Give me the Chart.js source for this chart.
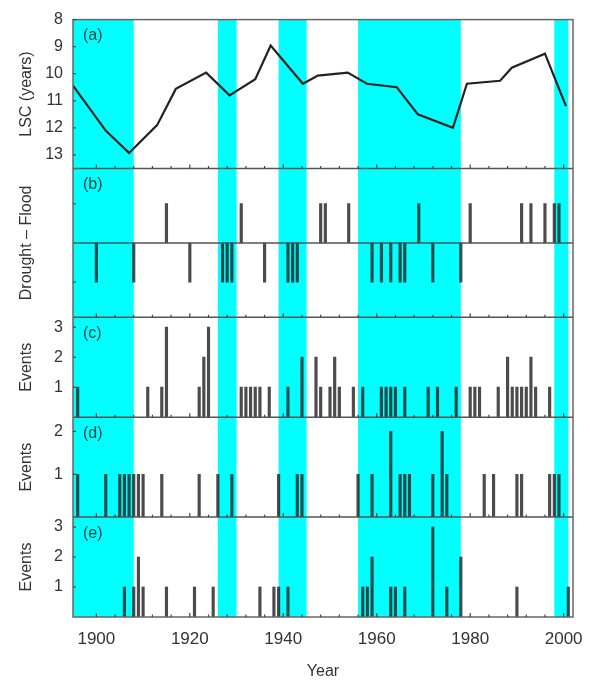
<!DOCTYPE html>
<html><head><meta charset="utf-8">
<script src="https://cdn.jsdelivr.net/npm/chart.js@4.4.0/dist/chart.umd.min.js"></script>
<style>html,body{margin:0;padding:0;background:#fff;}#wrap{position:relative;width:590px;height:682px;}</style>
</head><body><div id="wrap"><canvas id="c" width="590" height="682"></canvas></div>
<script>
// ---- data ----
const lscYears  = [1895, 1902, 1907, 1913, 1917, 1923.5, 1928.5, 1934, 1937.3, 1944.2, 1947.4, 1953.8, 1957.9, 1964.3, 1968.8, 1976.3, 1979.3, 1986.4, 1988.9, 1996, 2000.5];
const lscValues = [10.44, 12.1, 12.93, 11.9, 10.56, 9.96, 10.8, 10.2, 8.96, 10.37, 10.07, 9.96, 10.37, 10.5, 11.5, 12.0, 10.37, 10.26, 9.78, 9.26, 11.2];

const floodYears   = [1915, 1931, 1948, 1949, 1954, 1969, 1980, 1991, 1993, 1996, 1998, 1999];
const droughtYears = [1900, 1908, 1920, 1927, 1928, 1929, 1936, 1941, 1942, 1943, 1959, 1961, 1963, 1965, 1966, 1972, 1978];

const cYears  = [1896, 1911, 1914, 1915, 1922, 1923, 1924, 1931, 1932, 1933, 1934, 1935, 1937, 1941, 1944, 1947, 1948, 1950, 1951, 1952, 1955, 1957, 1961, 1962, 1963, 1964, 1966, 1971, 1973, 1977, 1980, 1981, 1982, 1986, 1988, 1989, 1990, 1991, 1992, 1993, 1994, 1997];
const cEvents = [1,    1,    1,    3,    1,    2,    3,    1,    1,    1,    1,    1,    1,    1,    2,    2,    1,    1,    2,    1,    1,    1,    1,    1,    1,    1,    1,    1,    1,    1,    1,    1,    1,    1,    2,    1,    1,    1,    1,    2,    1,    1];

const dYears  = [1896, 1902, 1905, 1906, 1907, 1908, 1909, 1910, 1914, 1922, 1926, 1929, 1939, 1943, 1944, 1956, 1959, 1963, 1965, 1966, 1967, 1972, 1974, 1975, 1983, 1985, 1990, 1991, 1997, 1998, 1999];
const dEvents = [1,    1,    1,    1,    1,    1,    1,    1,    1,    1,    1,    1,    1,    1,    1,    1,    1,    2,    1,    1,    1,    1,    2,    1,    1,    1,    1,    1,    1,    1,    1];

const eYears  = [1906, 1908, 1909, 1910, 1915, 1921, 1925, 1935, 1938, 1939, 1941, 1957, 1958, 1959, 1963, 1964, 1966, 1972, 1975, 1978, 1990, 2001];
const eEvents = [1,    1,    2,    1,    1,    1,    1,    1,    1,    1,    1,    1,    1,    2,    1,    1,    1,    3,    1,    2,    1,    1];

const bandStarts = [1895, 1926, 1939, 1956, 1998];
const bandEnds   = [1908, 1930, 1945, 1978, 2001];

const xTickLabels = [1900, 1920, 1940, 1960, 1980, 2000];
const aTicks = [8, 9, 10, 11, 12, 13];
const bTicks = [-1, 1];
const cTicks = [1, 2, 3];
const dTicks = [1, 2];
const eTicks = [1, 2, 3];
const panelLabels = ['(a)', '(b)', '(c)', '(d)', '(e)'];

// ---- build ----
const pts = (xs, ys) => xs.map((x, i) => ({x: x, y: ys[i]}));
const barColor = 'rgba(30,30,30,0.8)';
const txt = '#333';
const FONT = "'Liberation Sans', Arial, sans-serif";

function barDs(xs, ys, axis) {
  return {type: 'bar', data: pts(xs, ys), yAxisID: axis, backgroundColor: barColor,
          barThickness: 2.5, grouped: false, borderWidth: 0};
}

function yAxis(opts) {
  return Object.assign({
    type: 'linear', position: 'left', stack: 'panels',
    grid: {display: false, drawTicks: false}, border: {display: false},
    afterFit: s => { s.width = 73; }
  }, opts, {
    ticks: Object.assign({color: txt, padding: 10, autoSkip: false, font: {size: 16, family: FONT}}, opts.ticks || {}),
    title: Object.assign({display: true, color: txt, font: {size: 16, family: FONT}, padding: {top: 17, bottom: 0}}, opts.title || {})
  });
}

const fixedTicks = arr => (s => { s.ticks = arr.map(v => ({value: v})); });

const panelAxes = ['ya', 'yb', 'yc', 'yd', 'ye'];

// stacked left axes are laid out last-defined-on-top, so define bottom panel first
const scales = {
  x: {
    type: 'linear', position: 'bottom', min: 1895, max: 2002, offset: false,
    grid: {display: false, drawTicks: false, offset: false}, border: {display: false},
    afterBuildTicks: fixedTicks(xTickLabels),
    ticks: {color: txt, padding: 12, autoSkip: false, maxRotation: 0, font: {size: 17, family: FONT}, callback: v => String(v)},
    title: {display: true, text: 'Year', color: txt, font: {size: 16, family: FONT}, padding: {top: 0, bottom: 1}},
    afterFit: s => { s.height = 65; s.paddingLeft = 0; s.paddingRight = 0; }
  },
  ye: yAxis({min: 0, max: 3.33, stackWeight: 100, afterBuildTicks: fixedTicks(eTicks), title: {text: 'Events'}}),
  yd: yAxis({min: 0, max: 2.33, stackWeight: 100, afterBuildTicks: fixedTicks(dTicks), title: {text: 'Events'}}),
  yc: yAxis({min: 0, max: 3.33, stackWeight: 100, afterBuildTicks: fixedTicks(cTicks), title: {text: 'Events'}}),
  yb: yAxis({min: -1.9, max: 1.9, stackWeight: 149, afterBuildTicks: fixedTicks(bTicks), ticks: {callback: () => ''}, title: {text: 'Drought – Flood'}}),
  ya: yAxis({min: 8, max: 13.5, reverse: true, stackWeight: 149, afterBuildTicks: fixedTicks(aTicks), title: {text: 'LSC (years)'}})
};

const decorPlugin = {
  id: 'decor',
  beforeDatasetsDraw(chart) {
    const {ctx, chartArea: ca, scales: sc} = chart;
    ctx.save();
    ctx.fillStyle = '#00FFFF';
    bandStarts.forEach((s, i) => {
      const x0 = sc.x.getPixelForValue(s), x1 = sc.x.getPixelForValue(bandEnds[i]);
      ctx.fillRect(x0, ca.top, x1 - x0, ca.bottom - ca.top);
    });
    ctx.restore();
  },
  afterDatasetsDraw(chart) {
    const {ctx, chartArea: ca, scales: sc} = chart;
    ctx.save();
    ctx.strokeStyle = '#555';
    ctx.lineWidth = 1.5;
    panelAxes.forEach((id, i) => {
      const s = sc[id];
      if (i < panelAxes.length - 1) {
        ctx.beginPath(); ctx.moveTo(ca.left, s.bottom); ctx.lineTo(ca.right, s.bottom); ctx.stroke();
      }
    });
    const y0 = sc.yb.getPixelForValue(0);
    ctx.beginPath(); ctx.moveTo(ca.left, y0); ctx.lineTo(ca.right, y0); ctx.stroke();
    ctx.strokeStyle = '#666';
    ctx.strokeRect(ca.left, ca.top, ca.right - ca.left, ca.bottom - ca.top);
    ctx.lineWidth = 1.2;
    ctx.strokeStyle = '#444';
    panelAxes.forEach(id => {
      const s = sc[id];
      s.ticks.forEach(t => {
        const y = s.getPixelForValue(t.value);
        ctx.beginPath(); ctx.moveTo(ca.left, y); ctx.lineTo(ca.left + 3, y); ctx.stroke();
      });
      for (let yr = 1900; yr <= 2000; yr += 4) {
        const x = sc.x.getPixelForValue(yr);
        const len = (yr % 20 === 0) ? 4 : 2.5;
        ctx.beginPath(); ctx.moveTo(x, s.bottom); ctx.lineTo(x, s.bottom - len); ctx.stroke();
      }
    });
    ctx.fillStyle = 'rgba(30,30,30,0.85)';
    ctx.font = '16px ' + FONT;
    ctx.textBaseline = 'middle';
    ctx.textAlign = 'left';
    panelAxes.forEach((id, i) => {
      ctx.fillText(panelLabels[i], ca.left + 10, sc[id].top + 16);
    });
    ctx.restore();
  }
};

new Chart(document.getElementById('c'), {
  data: {
    datasets: [
      {type: 'line', data: pts(lscYears, lscValues), yAxisID: 'ya', borderColor: '#222', borderWidth: 2.2,
       pointRadius: 0, tension: 0, fill: false},
      barDs(floodYears, floodYears.map(() => 1), 'yb'),
      barDs(droughtYears, droughtYears.map(() => -1), 'yb'),
      barDs(cYears, cEvents, 'yc'),
      barDs(dYears, dEvents, 'yd'),
      barDs(eYears, eEvents, 'ye')
    ]
  },
  options: {
    responsive: false, animation: false, devicePixelRatio: 1,
    layout: {padding: {top: 19, right: 17, left: 0, bottom: 0}},
    plugins: {legend: {display: false}, tooltip: {enabled: false}},
    scales: scales
  },
  plugins: [decorPlugin]
});
</script>
</body></html>
